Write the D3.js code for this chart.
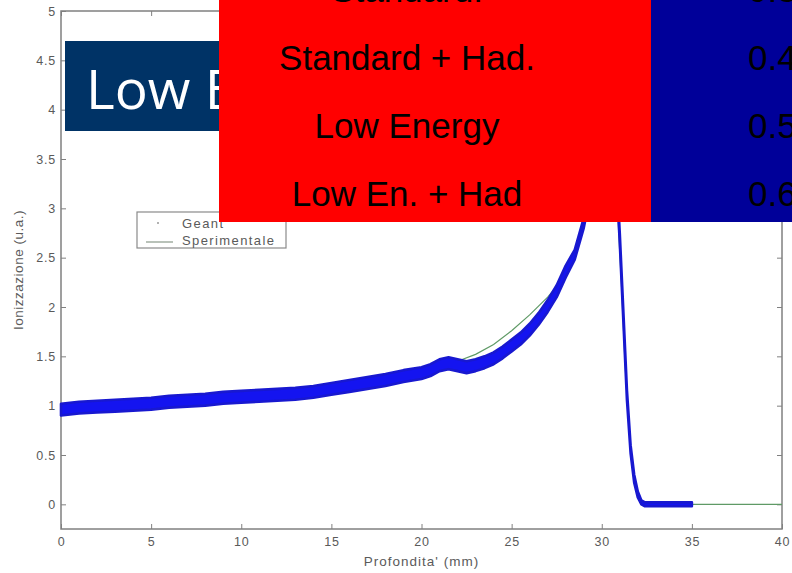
<!DOCTYPE html>
<html>
<head>
<meta charset="utf-8">
<script src="https://d3js.org/d3.v7.min.js"></script>
<style>
  body { margin: 0; background: #fff; }
  svg { display: block; }
  .tick text { font-family: "Liberation Sans", Arial, sans-serif; font-size: 12.5px; letter-spacing: 0.8px; fill: #5a5a5a; }
  .tick line { stroke: #808080; }
  .lbl { font-family: "Liberation Sans", Arial, sans-serif; font-size: 13.5px; fill: #5a5a5a; }
</style>
</head>
<body>
<svg id="chart" width="792" height="573"></svg>
<script>
// Geant (simulated) band: depth (mm), lower and upper edge
const geantX   = [0, 1, 2, 3, 4, 5, 6, 7, 8, 9, 10, 11, 12, 13, 14, 15, 16, 17, 18, 19, 20, 20.5, 21, 21.5, 22, 22.5, 23, 23.5, 24, 24.5, 25, 25.5, 26, 26.5, 27, 27.5, 28, 28.5, 29, 29.5, 30, 30.3, 30.6, 30.8, 31.0, 31.2, 31.4, 31.6, 31.8, 32.0, 32.2, 32.4, 33, 34, 35];
const geantLow = [0.90, 0.92, 0.93, 0.94, 0.95, 0.96, 0.98, 0.99, 1.00, 1.02, 1.03, 1.04, 1.05, 1.06, 1.08, 1.11, 1.14, 1.17, 1.20, 1.24, 1.27, 1.30, 1.35, 1.37, 1.35, 1.33, 1.35, 1.38, 1.42, 1.48, 1.55, 1.62, 1.71, 1.82, 1.95, 2.10, 2.30, 2.48, 2.80, 3.25, 3.85, 4.15, 4.05, 3.35, 2.65, 1.85, 1.05, 0.52, 0.22, 0.07, 0.00, -0.02, -0.02, -0.02, -0.02];
const geantHigh= [1.02, 1.04, 1.05, 1.06, 1.07, 1.08, 1.10, 1.11, 1.12, 1.14, 1.15, 1.16, 1.17, 1.18, 1.20, 1.23, 1.26, 1.29, 1.32, 1.36, 1.39, 1.42, 1.47, 1.49, 1.47, 1.45, 1.47, 1.50, 1.54, 1.60, 1.67, 1.74, 1.83, 1.94, 2.07, 2.22, 2.42, 2.58, 2.90, 3.35, 3.95, 4.25, 4.15, 3.45, 2.75, 1.95, 1.15, 0.60, 0.30, 0.13, 0.04, 0.02, 0.02, 0.02, 0.02];

// Sperimentale (measured) curve
const sperX = [0, 2, 4, 6, 8, 10, 12, 14, 16, 18, 20, 21, 22, 23, 24, 25, 26, 27, 27.5, 28, 28.5, 29, 29.5, 30, 30.4, 30.7, 30.9, 31.1, 31.3, 31.5, 31.7, 31.9, 32.1, 32.3, 35, 40];
const sperY = [0.97, 0.99, 1.01, 1.04, 1.06, 1.09, 1.11, 1.14, 1.20, 1.26, 1.34, 1.39, 1.45, 1.52, 1.62, 1.76, 1.92, 2.10, 2.21, 2.36, 2.56, 2.85, 3.30, 3.90, 4.30, 4.00, 2.90, 2.20, 1.40, 0.80, 0.40, 0.15, 0.04, 0.0, 0.0, 0.0];

// legend entries
const legendLabels = ["Geant", "Sperimentale"];

// overlaid table
const tableNames  = ["Standard.", "Standard + Had.", "Low Energy", "Low En. + Had"];
const tableValues = ["0.3", "0.4", "0.5", "0.6"];
const titleText = "Low Energy";

const svg = d3.select("#chart");
const W = 792, H = 573;
svg.append("rect").attr("width", W).attr("height", H).attr("fill", "#fff");

// plot frame
const plotL = 61, plotR = 782, plotT = 11, plotB = 529;
const x = d3.scaleLinear().domain([0, 40]).range([plotL, plotR]);
const y = d3.scaleLinear().domain([-0.25, 5]).range([plotB, plotT]);

const fmt = d3.format("~g");

// ticks on all four sides, pointing inward (matlab style)
svg.append("g").attr("transform", `translate(0,${plotB})`)
  .call(d3.axisBottom(x).ticks(8).tickFormat(fmt).tickSizeInner(-5).tickSizeOuter(0).tickPadding(8))
  .call(g => g.select(".domain").remove());
svg.append("g").attr("transform", `translate(0,${plotT})`)
  .call(d3.axisTop(x).ticks(8).tickFormat("").tickSizeInner(-5).tickSizeOuter(0))
  .call(g => g.select(".domain").remove());
svg.append("g").attr("transform", `translate(${plotL},0)`)
  .call(d3.axisLeft(y).ticks(10).tickFormat(fmt).tickSizeInner(-5).tickSizeOuter(0).tickPadding(5))
  .call(g => g.select(".domain").remove());
svg.append("g").attr("transform", `translate(${plotR},0)`)
  .call(d3.axisRight(y).ticks(10).tickFormat("").tickSizeInner(-5).tickSizeOuter(0))
  .call(g => g.select(".domain").remove());

svg.append("rect")
  .attr("x", plotL).attr("y", plotT)
  .attr("width", plotR - plotL).attr("height", plotB - plotT)
  .attr("fill", "none").attr("stroke", "#808080").attr("stroke-width", 1.5);

// axis titles
svg.append("text").attr("class", "lbl")
  .attr("x", x(20)).attr("y", 566)
  .attr("text-anchor", "middle")
  .style("letter-spacing", "1px")
  .text("Profondita' (mm)");
svg.append("text").attr("class", "lbl")
  .attr("transform", "translate(23,270) rotate(-90)")
  .attr("text-anchor", "middle")
  .style("letter-spacing", "0.5px")
  .text("Ionizzazione (u.a.)");

// measured curve (under the simulated band)
const sperData = sperX.map((v, i) => ({x: v, y: sperY[i]}));
svg.append("path")
  .datum(sperData)
  .attr("fill", "none")
  .attr("stroke", "#5f9a66")
  .attr("stroke-width", 1.2)
  .attr("d", d3.line().x(d => x(d.x)).y(d => y(d.y)));

// simulated band
const geantData = geantX.map((v, i) => ({x: v, lo: geantLow[i], hi: geantHigh[i]}));
svg.append("path")
  .datum(geantData)
  .attr("fill", "#1414f0")
  .attr("stroke", "#1818d0")
  .attr("stroke-width", 2.6)
  .attr("stroke-linejoin", "round")
  .attr("d", d3.area().x(d => x(d.x)).y0(d => y(d.lo)).y1(d => y(d.hi)));

// legend
const lg = svg.append("g").attr("transform", "translate(137,212)");
lg.append("rect").attr("width", 149).attr("height", 36)
  .attr("fill", "#fff").attr("stroke", "#8a8a8a").attr("stroke-width", 1.2);
lg.append("circle").attr("cx", 21).attr("cy", 11).attr("r", 1).attr("fill", "#999");
lg.append("line").attr("x1", 9).attr("x2", 36).attr("y1", 30).attr("y2", 30)
  .attr("stroke", "#8a9a8a").attr("stroke-width", 1.2);
lg.selectAll("text.lab").data(legendLabels).join("text")
  .attr("class", "lab lbl")
  .attr("x", 45).attr("y", (d, i) => 16 + i * 17)
  .style("font-size", "13px").style("letter-spacing", "1.4px")
  .text(d => d);

// title box
svg.append("rect").attr("x", 65).attr("y", 41).attr("width", 300).attr("height", 90).attr("fill", "#003366");
svg.append("text").attr("x", 86).attr("y", 109)
  .style("font-family", "Open Sans, DejaVu Sans, sans-serif").style("font-size", "55px")
  .attr("fill", "#fff").text(titleText);

// overlaid table
svg.append("rect").attr("x", 219).attr("y", -10).attr("width", 432).attr("height", 232).attr("fill", "#ff0000");
svg.append("rect").attr("x", 651).attr("y", -10).attr("width", 160).attr("height", 232).attr("fill", "#000099");
svg.selectAll("text.name").data(tableNames).join("text")
  .attr("class", "name")
  .attr("x", 407).attr("y", (d, i) => 2 + i * 68)
  .attr("text-anchor", "middle")
  .style("font-family", "Liberation Sans, Arial, sans-serif").style("font-size", "35px")
  .attr("fill", "#000").text(d => d);
svg.selectAll("text.val").data(tableValues).join("text")
  .attr("class", "val")
  .attr("x", 748).attr("y", (d, i) => 2 + i * 68)
  .style("font-family", "Liberation Sans, Arial, sans-serif").style("font-size", "35px")
  .attr("fill", "#000").text(d => d);
</script>
</body>
</html>
